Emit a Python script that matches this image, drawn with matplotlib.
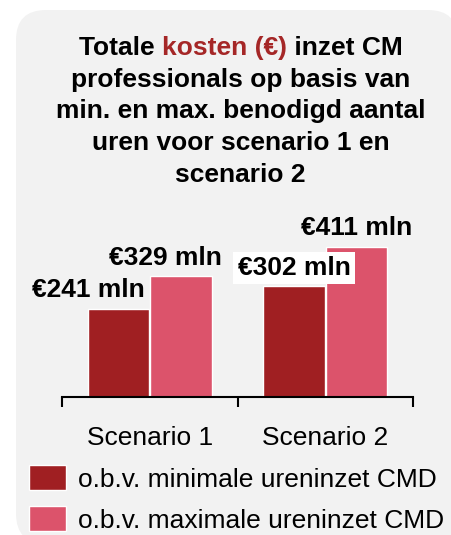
import matplotlib
matplotlib.use("Agg")
import matplotlib.pyplot as plt
from matplotlib.patches import FancyBboxPatch

plt.rcParams['font.family'] = ['Liberation Sans', 'DejaVu Sans']

# data
scenarios = ["Scenario 1", "Scenario 2"]
min_costs = [241, 302]
max_costs = [329, 411]
series_names = ["o.b.v. minimale ureninzet CMD", "o.b.v. maximale ureninzet CMD"]
value_labels_min = ["€241 mln", "€302 mln"]
value_labels_max = ["€329 mln", "€411 mln"]

dark_red = "#A01F22"
pink = "#DC536B"
title_red = "#A52727"
bg = "#F2F2F2"

W, H = 451, 535
fig = plt.figure(figsize=(W / 100, H / 100), dpi=100, facecolor="white")

# px helper (top-left origin) -> figure fraction
def fx(px):
    return px / W

def fy(py):
    return 1 - py / H

# rounded gray card behind everything
card = FancyBboxPatch((16 / 100, -8.6 / 100), 442 / 100, 533.6 / 100,
                      boxstyle="round,pad=0,rounding_size=0.30",
                      transform=fig.dpi_scale_trans, facecolor=bg,
                      edgecolor="none", zorder=-5)
fig.patches.append(card)

# title
tfont = dict(fontsize=19, fontweight="bold", va="baseline")
cx = 240.5
t1 = fig.text(0, fy(55), "Totale ", color="black", ha="left", **tfont)
t2 = fig.text(0, fy(55), "kosten (€)", color=title_red, ha="left", **tfont)
t3 = fig.text(0, fy(55), " inzet CM", color="black", ha="left", **tfont)
r = fig.canvas.get_renderer()
w1 = t1.get_window_extent(r).width
w2 = t2.get_window_extent(r).width
w3 = t3.get_window_extent(r).width
x0 = cx - (w1 + w2 + w3) / 2
t1.set_x(fx(x0))
t2.set_x(fx(x0 + w1))
t3.set_x(fx(x0 + w1 + w2))
other_lines = ["professionals op basis van", "min. en max. benodigd aantal",
               "uren voor scenario 1 en", "scenario 2"]
for i, line in enumerate(other_lines):
    fig.text(fx(cx), fy(55 + 31.7 * (i + 1)), line, ha="center", **tfont)

# chart
ax = fig.add_axes([fx(62), fy(396.7), fx(413) - fx(62), fy(214) - fy(396.7)])
ax.set_facecolor("none")
x = [0, 1]
bw = 0.35
off = 0.178
b1 = ax.bar([i - off for i in x], min_costs, bw, color=dark_red,
            edgecolor="white", linewidth=1, label=series_names[0])
b2 = ax.bar([i + off for i in x], max_costs, bw, color=pink,
            edgecolor="white", linewidth=1, label=series_names[1])
ax.set_xlim(-0.5, 1.5)
ax.set_ylim(0, 500)

for s in ["top", "right", "left"]:
    ax.spines[s].set_visible(False)
ax.spines["bottom"].set_linewidth(1.5)
ax.set_yticks([])
ax.set_xticks([-0.5, 0.5, 1.5])
ax.set_xticklabels([])
ax.tick_params(axis="x", which="major", length=7, width=1.5, direction="out")
ax.set_xticks(x, minor=True)
ax.set_xticklabels(scenarios, minor=True, fontsize=19)
ax.tick_params(axis="x", which="minor", length=0, pad=21)

lfont = dict(fontsize=19, fontweight="bold", va="baseline", ha="center",
             textcoords="offset pixels")
# value labels
dx_min = [-30.5, 0]
dx_max = [-15.5, 0]
for i in range(2):
    bbox = dict(facecolor="white", edgecolor="none", pad=3) if i == 1 else None
    ax.annotate(value_labels_min[i], (x[i] - off, min_costs[i]),
                xytext=(dx_min[i], 11.5), bbox=bbox, **lfont)
    ax.annotate(value_labels_max[i], (x[i] + off, max_costs[i]),
                xytext=(dx_max[i], 11.5), **lfont)

# legend
fig.legend(handles=[b1, b2], labels=series_names, loc="upper left",
           bbox_to_anchor=(fx(29), fy(465)), frameon=False, fontsize=19,
           handlelength=1.4, handleheight=1.1, handletextpad=0.45,
           labelspacing=0.55, borderpad=0, borderaxespad=0)

fig.savefig("out.png", dpi=100, facecolor="white")
